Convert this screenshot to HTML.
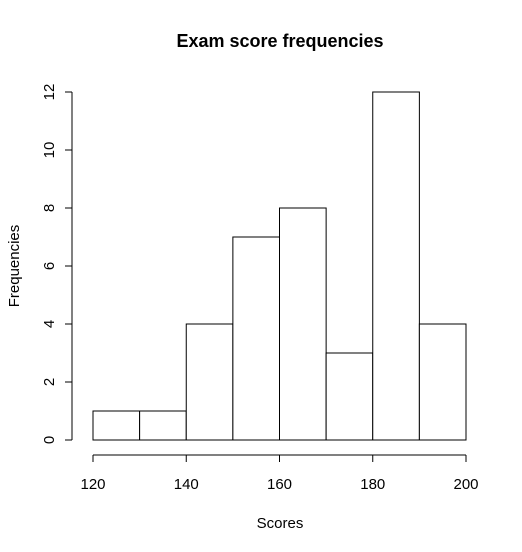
<!DOCTYPE html>
<html><head><meta charset="utf-8"><style>body{margin:0;background:#fff}svg{display:block;font-family:"Liberation Sans",Arial,sans-serif}</style></head>
<body>
<svg id="chart" width="522" height="552" viewBox="0 0 522 552">
<text x="280" y="47" text-anchor="middle" font-size="18" font-weight="bold">Exam score frequencies</text>
<text x="280" y="528" text-anchor="middle" font-size="15">Scores</text>
<text transform="translate(19,266) rotate(-90)" text-anchor="middle" font-size="15">Frequencies</text>
<g id="bars"></g><g id="xaxis"></g><g id="yaxis"></g>
</svg>
<script>
const binEdges=[120,130,140,150,160,170,180,190,200];
const counts=[1,1,4,7,8,3,12,4];
const xTicks=[120,140,160,180,200];
const yTicks=[0,2,4,6,8,10,12];
const NS="http://www.w3.org/2000/svg";
const x=v=>93+(v-120)*(373/80);
const y=v=>440-v*29;
function mk(t,a,p){const e=document.createElementNS(NS,t);for(const k in a)e.setAttribute(k,a[k]);p.appendChild(e);return e;}
const bars=document.getElementById('bars');
counts.forEach((c,i)=>{
 const r=mk('rect',{x:x(binEdges[i]),y:y(c),width:x(binEdges[i+1])-x(binEdges[i]),height:y(0)-y(c),fill:'#fff',stroke:'#000','stroke-width':1},bars);
 
 
});
const xa=document.getElementById('xaxis');
mk('line',{x1:x(xTicks[0]),x2:x(xTicks[xTicks.length-1]),y1:455,y2:455,stroke:'#000'},xa);
xTicks.forEach(t=>{
 mk('line',{x1:x(t),x2:x(t),y1:455,y2:462,stroke:'#000'},xa);
 const tx=mk('text',{x:x(t),y:489,'text-anchor':'middle','font-size':15},xa);tx.textContent=t;
 
 
});
const ya=document.getElementById('yaxis');
mk('line',{x1:72,x2:72,y1:y(yTicks[0]),y2:y(yTicks[yTicks.length-1]),stroke:'#000'},ya);
yTicks.forEach(t=>{
 mk('line',{x1:65,x2:72,y1:y(t),y2:y(t),stroke:'#000'},ya);
 const tx=mk('text',{transform:`translate(54,${y(t)}) rotate(-90)`,'text-anchor':'middle','font-size':15},ya);tx.textContent=t;
 
 
});
</script>
</body></html>
